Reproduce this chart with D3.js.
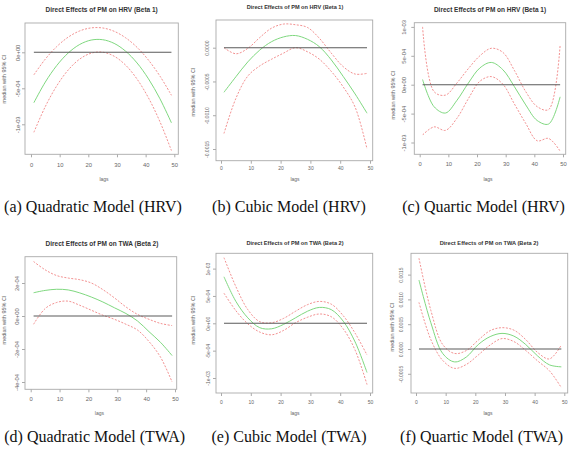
<!DOCTYPE html>
<html>
<head>
<meta charset="utf-8">
<script src="https://cdn.jsdelivr.net/npm/d3@7"></script>
<style>
  body { margin: 0; background: #fff; }
  svg { display: block; }
</style>
</head>
<body>
<div id="chart"></div>
<script>
// lags on which the curves are read
let lags = [1, 5, 9, 13, 17, 21, 25, 29, 33, 37, 41, 45, 49]
let xTicks = [0, 10, 20, 30, 40, 50]

// (a) quadratic HRV
let medA = [-7.0e-4, -4.13e-4, -1.83e-4, -0.09e-4, 1.09e-4, 1.70e-4, 1.75e-4, 1.24e-4, 0.16e-4, -1.48e-4, -3.69e-4, -6.46e-4, -9.79e-4]
let upA = [-3.13e-4, -0.94e-4, 0.80e-4, 2.11e-4, 2.97e-4, 3.39e-4, 3.38e-4, 2.92e-4, 2.02e-4, 0.69e-4, -1.09e-4, -3.31e-4, -5.97e-4]
let loA = [-1.111e-3, -7.53e-4, -4.65e-4, -2.45e-4, -0.94e-4, -0.12e-4, 0.02e-4, -0.54e-4, -1.78e-4, -3.72e-4, -6.34e-4, -9.65e-4, -1.365e-3]
let yTicksA = [0, -5e-4, -1e-3]
let yLabelsA = ['0e+00', '-5e-04', '-1e-03']

// (b) cubic HRV
let medB = [-6.6e-4, -4.3e-4, -2.1e-4, -0.35e-4, 0.9e-4, 1.6e-4, 1.8e-4, 1.25e-4, 0.15e-4, -1.8e-4, -4.25e-4, -6.85e-4, -9.7e-4]
let upB = [0, -0.9e-4, -0.1e-4, 1.5e-4, 2.9e-4, 3.5e-4, 3.4e-4, 3.0e-4, 1.4e-4, -0.8e-4, -2.8e-4, -3.9e-4, -3.8e-4]
let loB = [-1.27e-3, -7.5e-4, -4.2e-4, -2.7e-4, -1.7e-4, -0.8e-4, 0, -0.6e-4, -1.7e-4, -3.5e-4, -5.8e-4, -8.8e-4, -1.5e-3]
let yTicksB = [0, -5e-4, -1e-3, -1.5e-3]
let yLabelsB = ['0.0000', '-0.0005', '-0.0010', '-0.0015']

// (c) quartic HRV
let medC = [0.9e-4, -3.8e-4, -4.9e-4, -2.7e-4, 0.3e-4, 2.9e-4, 3.85e-4, 2.6e-4, -0.3e-4, -3.5e-4, -6.2e-4, -6.8e-4, -2.1e-4]
let upC = [1.0e-3, -1.2e-4, -1.8e-4, 0.3e-4, 2.8e-4, 5.0e-4, 6.3e-4, 5.6e-4, 2.5e-4, -1.2e-4, -3.8e-4, -4.3e-4, 6.9e-4]
let loC = [-8.7e-4, -7.3e-4, -7.9e-4, -5.8e-4, -2.4e-4, 0.6e-4, 1.4e-4, 0.1e-4, -3.3e-4, -6.7e-4, -9.7e-4, -9.3e-4, -1.15e-3]
let yTicksC = [1e-3, 5e-4, 0, -5e-4, -1e-3]
let yLabelsC = ['1e-03', '5e-04', '0e+00', '-5e-04', '-1e-03']

// (d) quadratic TWA
let medD = [1.41e-4, 1.55e-4, 1.62e-4, 1.58e-4, 1.40e-4, 1.15e-4, 0.85e-4, 0.5e-4, 0.15e-4, -0.3e-4, -0.95e-4, -1.6e-4, -2.4e-4]
let upD = [3.3e-4, 2.8e-4, 2.45e-4, 2.3e-4, 2.2e-4, 2.0e-4, 1.6e-4, 1.1e-4, 0.55e-4, 0.1e-4, -0.2e-4, -0.45e-4, -0.58e-4]
let loD = [-0.5e-4, 0.45e-4, 0.82e-4, 0.9e-4, 0.65e-4, 0.35e-4, 0.05e-4, -0.2e-4, -0.5e-4, -0.85e-4, -1.55e-4, -2.5e-4, -4.0e-4]
let yTicksD = [2e-4, 0, -2e-4, -4e-4]
let yLabelsD = ['2e-04', '0e+00', '-2e-04', '-4e-04']

// (e) cubic TWA
let medE = [8.5e-4, 4.0e-4, 1.0e-4, -0.8e-4, -1.0e-4, -0.2e-4, 1.0e-4, 2.2e-4, 2.9e-4, 2.5e-4, 0.4e-4, -3.4e-4, -9.0e-4]
let upE = [1.2e-3, 6.7e-4, 2.5e-4, 0.3e-4, 0.1e-4, 0.9e-4, 2.2e-4, 3.4e-4, 4.0e-4, 3.5e-4, 1.4e-4, -1.8e-4, -5.8e-4]
let loE = [5.5e-4, 2.3e-4, -0.1e-4, -1.6e-4, -2.1e-4, -1.3e-4, 0.1e-4, 1.1e-4, 1.7e-4, 1.2e-4, -1.0e-4, -4.9e-4, -1.12e-3]
let yTicksE = [1e-3, 5e-4, 0, -5e-4, -1e-3]
let yLabelsE = ['1e-03', '5e-04', '0e+00', '-5e-04', '-1e-03']

// (f) quartic TWA
let medF = [1.39e-3, 5.3e-4, -0.9e-4, -2.6e-4, -1.6e-4, 0.9e-4, 2.5e-4, 3.15e-4, 2.6e-4, 0.9e-4, -1.4e-4, -3.2e-4, -3.6e-4]
let upF = [1.83e-3, 7.8e-4, 0.9e-4, -0.9e-4, -0.3e-4, 1.8e-4, 3.7e-4, 4.3e-4, 3.8e-4, 1.9e-4, -0.7e-4, -2.0e-4, 0.8e-4]
let loF = [9.4e-4, 1.9e-4, -2.3e-4, -3.9e-4, -3.1e-4, -1.2e-4, 0.8e-4, 2.1e-4, 1.5e-4, -0.3e-4, -2.4e-4, -4.4e-4, -7.8e-4]
let yTicksF = [1.5e-3, 1e-3, 5e-4, 0, -5e-4]
let yLabelsF = ['0.0015', '0.0010', '0.0005', '0.0000', '-0.0005']

let titles = [
  'Direct Effects of PM on HRV (Beta 1)', 'Direct Effects of PM on HRV (Beta 1)', 'Direct Effects of PM on HRV (Beta 1)',
  'Direct Effects of PM on TWA (Beta 2)', 'Direct Effects of PM on TWA (Beta 2)', 'Direct Effects of PM on TWA (Beta 2)'
]
let captions = [
  '(a) Quadratic Model (HRV)', '(b) Cubic Model (HRV)', '(c) Quartic Model (HRV)',
  '(d) Quadratic Model (TWA)', '(e) Cubic Model (TWA)', '(f) Quartic Model (TWA)'
]

let sans = 'Liberation Sans, Arial, sans-serif'
let serif = 'Liberation Serif, Times New Roman, serif'

let svg = d3.select('#chart')
  .append('svg')
  .attr('width', 573)
  .attr('height', 450)

// layout of each small plot (box, tick calibration, text positions)
let panels = [
  { med: medA, up: upA, lo: loA, yt: yTicksA, yl: yLabelsA, box: [25, 178.3, 23, 154.3], xpx: [31, 174.3], yref: [0, -5e-4], ypx: [52.3, 88.3],
    tit: [101.7, 10, 6.5], tick: 5.8, yoff: 7, xoff: 10.5, ylab: [4, 79], lagsAt: [104, 179.4], cap: [93, 211.5] },
  { med: medB, up: upB, lo: loB, yt: yTicksB, yl: yLabelsB, box: [216, 372.7, 20, 160.7], xpx: [221, 370], yref: [0, -1.5e-3], ypx: [47.7, 149],
    tit: [295, 7.3, 5.6], tick: 5.0, yoff: 8.5, xoff: 8, ylab: [193.3, 92], lagsAt: [295, 179.4], cap: [289, 211.5] },
  { med: medC, up: upC, lo: loC, yt: yTicksC, yl: yLabelsC, box: [414.3, 565.7, 22.7, 154.3], xpx: [419.7, 563], yref: [0, -1e-3], ypx: [84.7, 142.5],
    tit: [490, 10, 6.5], tick: 5.8, yoff: 10, xoff: 10, ylab: [392.7, 95], lagsAt: [488, 179.4], cap: [483.5, 211.5] },
  { med: medD, up: upD, lo: loD, yt: yTicksD, yl: yLabelsD, box: [25, 176.7, 256.7, 389.3], xpx: [30.7, 175], yref: [0, -4e-4], ypx: [316, 382],
    tit: [102, 244, 6.5], tick: 5.8, yoff: 7.7, xoff: 10, ylab: [4, 320], lagsAt: [99.4, 413], cap: [94.7, 441.5] },
  { med: medE, up: upE, lo: loE, yt: yTicksE, yl: yLabelsE, box: [216, 372.7, 253.3, 393], xpx: [221, 370], yref: [0, -1e-3], ypx: [323.3, 378],
    tit: [295, 243.3, 5.6], tick: 5.0, yoff: 7.7, xoff: 9.7, ylab: [193.3, 320], lagsAt: [295, 413], cap: [289, 441.5] },
  { med: medF, up: upF, lo: loF, yt: yTicksF, yl: yLabelsF, box: [411, 567.7, 253.3, 393], xpx: [416, 564.3], yref: [0, -5e-4], ypx: [349, 373.8],
    tit: [489, 243.3, 5.7], tick: 5.0, yoff: 9.3, xoff: 9.7, ylab: [391.7, 327], lagsAt: [488, 413], cap: [481.6, 441.5] }
]

panels.forEach((p, i) => grafic(p, titles[i], captions[i]))

function grafic(p, title, caption) {
  let [x0, x1, y0, y1] = p.box
  let x = d3.scaleLinear().domain([0, 50]).range(p.xpx)
  let y = d3.scaleLinear().domain(p.yref).range(p.ypx)
  let g = svg.append('g')

  // box
  g.append('rect')
    .attr('x', x0)
    .attr('y', y0)
    .attr('width', x1 - x0)
    .attr('height', y1 - y0)
    .attr('fill', 'none')
    .attr('stroke', '#aaa')
    .attr('stroke-width', 0.9)

  // x axis
  let ax = g.append('g')
    .attr('transform', `translate(0,${y1})`)
    .call(d3.axisBottom(x).tickValues(xTicks).tickSize(3))
  ax.select('.domain').remove()
  ax.selectAll('line').attr('stroke', '#aaa')
  ax.selectAll('text')
    .attr('y', p.xoff)
    .attr('dy', '0.35em')
    .attr('font-size', p.tick)
    .attr('font-family', sans)
    .attr('fill', '#666')

  // y axis with vertical labels
  let ay = g.append('g')
    .attr('transform', `translate(${x0},0)`)
    .call(d3.axisLeft(y).tickValues(p.yt).tickFormat((d, k) => p.yl[k]).tickSize(3))
  ay.select('.domain').remove()
  ay.selectAll('line').attr('stroke', '#aaa')
  ay.selectAll('text')
    .attr('x', null)
    .attr('dy', '0.35em')
    .attr('transform', `translate(${-p.yoff},0) rotate(-90)`)
    .attr('text-anchor', 'middle')
    .attr('font-size', p.tick)
    .attr('font-family', sans)
    .attr('fill', '#666')

  // curves
  let linia = d3.line()
    .x((d, k) => x(lags[k]))
    .y(d => y(d))
    .curve(d3.curveCatmullRom.alpha(0.5))

  g.append('path')
    .datum(p.med)
    .attr('d', linia)
    .attr('fill', 'none')
    .attr('stroke', '#7fd87f')
    .attr('stroke-width', 1)

  ;[p.up, p.lo].forEach(serie => {
    g.append('path')
      .datum(serie)
      .attr('d', linia)
      .attr('fill', 'none')
      .attr('stroke', '#f08585')
      .attr('stroke-width', 0.9)
      .attr('stroke-dasharray', '2,1.5')
  })

  // zero line
  g.append('line')
    .attr('x1', x(lags[0]))
    .attr('x2', x(lags[lags.length - 1]))
    .attr('y1', y(0))
    .attr('y2', y(0))
    .attr('stroke', '#5a5a5a')
    .attr('stroke-width', 1.1)

  // texts
  g.append('text')
    .attr('x', p.tit[0])
    .attr('y', p.tit[1])
    .attr('dy', '0.35em')
    .attr('text-anchor', 'middle')
    .attr('font-family', sans)
    .attr('font-weight', 'bold')
    .attr('font-size', p.tit[2])
    .attr('fill', '#333')
    .text(title)

  g.append('text')
    .attr('transform', `translate(${p.ylab[0]},${p.ylab[1]}) rotate(-90)`)
    .attr('dy', '0.35em')
    .attr('text-anchor', 'middle')
    .attr('font-family', sans)
    .attr('font-size', 5.5)
    .attr('fill', '#666')
    .text('median with 95% CI')

  g.append('text')
    .attr('x', p.lagsAt[0])
    .attr('y', p.lagsAt[1])
    .attr('dy', '0.35em')
    .attr('text-anchor', 'middle')
    .attr('font-family', sans)
    .attr('font-size', 5)
    .attr('fill', '#666')
    .text('lags')

  g.append('text')
    .attr('x', p.cap[0])
    .attr('y', p.cap[1])
    .attr('text-anchor', 'middle')
    .attr('font-family', serif)
    .attr('font-size', 16)
    .attr('fill', '#111')
    .text(caption)
}
</script>
</body>
</html>
